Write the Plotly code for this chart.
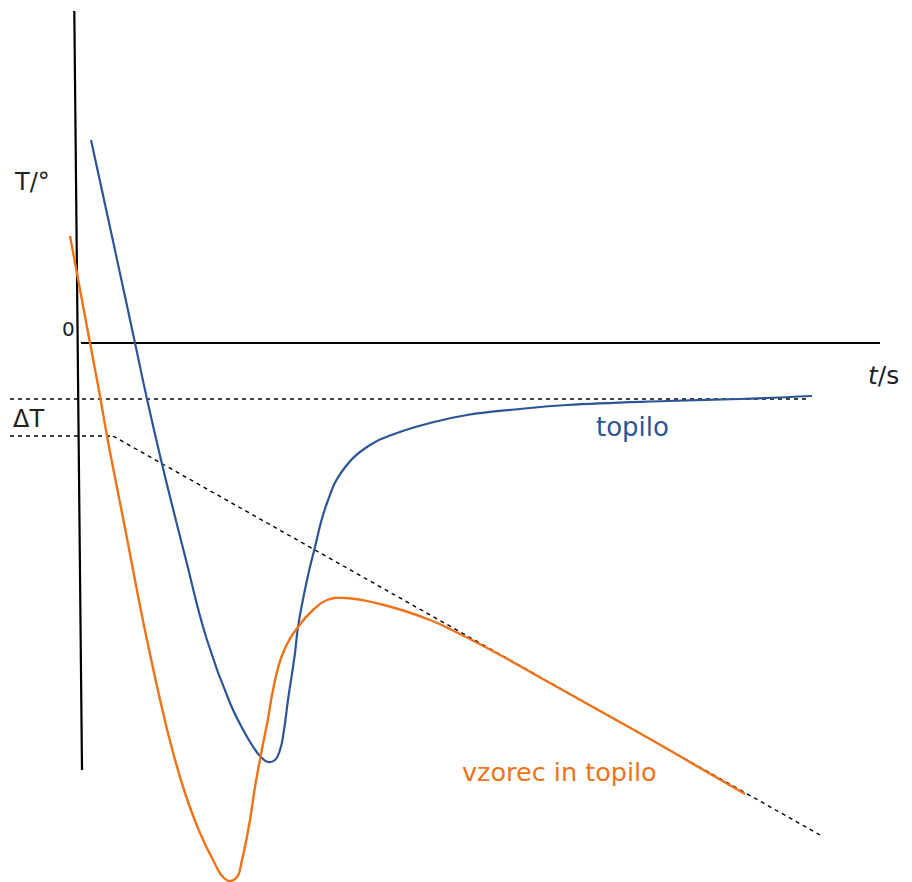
import plotly.graph_objects as go

# Heating curves: time t (s) vs temperature T (°), schematic units
t_topilo = [1.1, 3.3, 5.5, 6.7, 8.2, 10.5, 12.7, 15.0, 16.0, 17.2, 18.0, 18.8, 19.5, 20.0,
            20.4, 20.8, 21.5, 21.8, 22.7, 23.4, 24.7, 26.3, 29.0, 31.7, 35.0, 38.7, 44.0,
            48.7, 58.7, 66.0, 73.2]
T_topilo = [20.3, 10.2, 0.0, -5.6, -12.1, -21.3, -29.7, -36.0, -38.1, -40.2, -41.3, -41.9,
            -41.7, -40.7, -38.7, -35.7, -31.0, -28.4, -23.7, -20.8, -16.0, -12.7, -10.2,
            -9.0, -8.0, -7.2, -6.6, -6.2, -5.8, -5.6, -5.3]

t_vzorec = [-1.0, 1.0, 2.0, 2.7, 4.5, 6.7, 9.0, 10.5, 12.0, 13.3, 14.3, 15.0, 15.7, 16.2,
            17.0, 17.5, 18.2, 18.8, 19.3, 20.3, 21.8, 23.3, 24.7, 26.5, 30.0, 35.0, 38.0,
            42.0, 47.0, 52.0, 57.0, 62.0, 66.5]
T_vzorec = [10.7, 0.0, -5.3, -9.3, -18.5, -29.7, -39.8, -45.0, -49.0, -51.7, -53.4, -53.8,
            -53.4, -51.7, -47.7, -44.4, -40.6, -37.6, -34.7, -31.0, -28.4, -26.7, -25.7,
            -25.5, -26.1, -27.7, -29.1, -31.2, -34.0, -36.8, -39.6, -42.5, -45.1]

# Hand-drawn axes
t_axis_v = [-0.57, 0.2]
T_axis_v = [33.2, -42.7]
t_axis_h = [0.1, 80.0]
T_axis_h = [0.0, 0.0]

# Construction lines for ΔT
t_ref_upper = [-7.0, 73.0]
T_ref_upper = [-5.6, -5.6]
t_ref_lower = [-7.0, 3.3]
T_ref_lower = [-9.3, -9.3]
t_extrap = [3.3, 74.0]
T_extrap = [-9.3, -49.2]

BLUE = "#2C5596"
ORANGE = "#EF7318"
FONT = "DejaVu Sans"

fig = go.Figure()

def line(x, y, color, width, dash="solid"):
    fig.add_trace(go.Scatter(x=x, y=y, mode="lines", hoverinfo="skip", showlegend=False,
                             line=dict(color=color, width=width, dash=dash)))

line(t_axis_v, T_axis_v, "black", 2.2)
line(t_axis_h, T_axis_h, "black", 2.2)
line(t_ref_upper, T_ref_upper, "black", 1.4, "4px,4px")
line(t_ref_lower, T_ref_lower, "black", 1.4, "4px,4px")
line(t_extrap, T_extrap, "black", 1.4, "4px,4px")

fig.add_trace(go.Scatter(x=t_topilo, y=T_topilo, mode="lines", showlegend=False,
                         line=dict(color=BLUE, width=2.2, shape="spline", smoothing=1.3)))
fig.add_trace(go.Scatter(x=t_vzorec, y=T_vzorec, mode="lines", showlegend=False,
                         line=dict(color=ORANGE, width=2.4, shape="spline", smoothing=1.3)))

labels = [
    ("T/°", -4.8, 16.1, 24, "#222222"),
    ("0", -1.2, 1.4, 20, "#222222"),
    ("ΔT", -5.2, -7.6, 24, "#222222"),
    ("<i>t</i>/s", 80.3, -3.2, 25, "#222222"),
    ("topilo", 55.2, -8.4, 26, BLUE),
    ("vzorec in topilo", 47.9, -42.9, 25.5, ORANGE),
]
for text, x, y, size, color in labels:
    fig.add_annotation(x=x, y=y, text=text, showarrow=False,
                       font=dict(family=FONT, size=size, color=color),
                       xanchor="center", yanchor="middle")

fig.update_xaxes(range=[-8.0, 83.2], visible=False)
fig.update_yaxes(range=[-53.9, 34.3], visible=False)
fig.update_layout(width=912, height=882, autosize=False,
                  margin=dict(l=0, r=0, t=0, b=0),
                  paper_bgcolor="white", plot_bgcolor="white")

fig.write_html("out.html")
